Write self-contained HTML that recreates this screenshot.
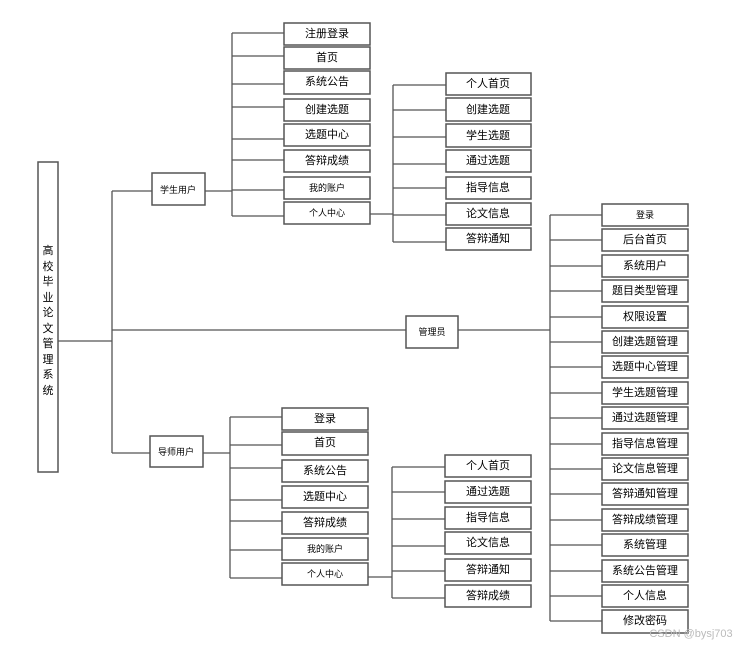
<!DOCTYPE html>
<html><head><meta charset="utf-8"><style>
html,body{margin:0;padding:0;background:#fff;}
svg{display:block;}
text{font-family:"Liberation Sans","Noto Sans CJK SC",sans-serif;fill:#000;text-anchor:middle;dominant-baseline:central;}
.b{fill:#fff;stroke:#555;stroke-width:1.5;}
.l{stroke:#555;stroke-width:1.3;fill:none;}
.t{font-size:11px;}
.s{font-size:9px;}
</style></head><body>
<svg width="749" height="647" viewBox="0 0 749 647">
<g class="l">
<path d="M58 341H112M112 191V453M112 191H152M112 330H406M112 453H150"/>
<path d="M205 191H232M232 33V216M232 33H284M232 56H284M232 84H284M232 107H284M232 139H284M232 160H284M232 190H284M232 216H284"/>
<path d="M370 214H393M393 85V242M393 85H446M393 110H446M393 137H446M393 164H446M393 188H446M393 215H446M393 242H446"/>
<path d="M458 330H550M550 215V621M550 215H602M550 240H602M550 266H602M550 291H602M550 317H602M550 342H602M550 367H602M550 393H602M550 418H602M550 444H602M550 469H602M550 494H602M550 520H602M550 545H602M550 571H602M550 596H602M550 621H602"/>
<path d="M203 453H230M230 417V578M230 417H282M230 445H282M230 468H282M230 500H282M230 521H282M230 550H282M230 578H282"/>
<path d="M368 577H392M392 467V598M392 467H445M392 492H445M392 519H445M392 546H445M392 571H445M392 598H445"/>
</g>
<rect class="b" x="38" y="162" width="20" height="310"/>
<g class="t">
<text x="48" y="251">高</text><text x="48" y="267">校</text><text x="48" y="282">毕</text><text x="48" y="298">业</text><text x="48" y="313">论</text><text x="48" y="329">文</text><text x="48" y="344">管</text><text x="48" y="360">理</text><text x="48" y="375">系</text><text x="48" y="391">统</text>
</g>
<rect class="b" x="152" y="173" width="53" height="32"/><text class="s" x="178" y="190">学生用户</text>
<rect class="b" x="406" y="316" width="52" height="32"/><text class="s" x="432" y="332">管理员</text>
<rect class="b" x="150" y="436" width="53" height="31"/><text class="s" x="176" y="452">导师用户</text>

<g>
<rect class="b" x="284" y="23" width="86" height="22"/><text class="t" x="327" y="34">注册登录</text>
<rect class="b" x="284" y="47" width="86" height="22"/><text class="t" x="327" y="58">首页</text>
<rect class="b" x="284" y="71" width="86" height="23"/><text class="t" x="327" y="82">系统公告</text>
<rect class="b" x="284" y="99" width="86" height="22"/><text class="t" x="327" y="110">创建选题</text>
<rect class="b" x="284" y="124" width="86" height="22"/><text class="t" x="327" y="135">选题中心</text>
<rect class="b" x="284" y="150" width="86" height="22"/><text class="t" x="327" y="161">答辩成绩</text>
<rect class="b" x="284" y="177" width="86" height="22"/><text class="s" x="327" y="188">我的账户</text>
<rect class="b" x="284" y="202" width="86" height="22"/><text class="s" x="327" y="213">个人中心</text>
</g>
<g>
<rect class="b" x="446" y="73" width="85" height="22"/><text class="t" x="488" y="84">个人首页</text>
<rect class="b" x="446" y="98" width="85" height="23"/><text class="t" x="488" y="110">创建选题</text>
<rect class="b" x="446" y="124" width="85" height="23"/><text class="t" x="488" y="136">学生选题</text>
<rect class="b" x="446" y="150" width="85" height="22"/><text class="t" x="488" y="161">通过选题</text>
<rect class="b" x="446" y="177" width="85" height="22"/><text class="t" x="488" y="188">指导信息</text>
<rect class="b" x="446" y="203" width="85" height="22"/><text class="t" x="488" y="214">论文信息</text>
<rect class="b" x="446" y="228" width="85" height="22"/><text class="t" x="488" y="239">答辩通知</text>
</g>
<g>
<rect class="b" x="602" y="204" width="86" height="22"/><text class="s" x="645" y="215">登录</text>
<rect class="b" x="602" y="229" width="86" height="22"/><text class="t" x="645" y="240">后台首页</text>
<rect class="b" x="602" y="255" width="86" height="22"/><text class="t" x="645" y="266">系统用户</text>
<rect class="b" x="602" y="280" width="86" height="22"/><text class="t" x="645" y="291">题目类型管理</text>
<rect class="b" x="602" y="306" width="86" height="22"/><text class="t" x="645" y="317">权限设置</text>
<rect class="b" x="602" y="331" width="86" height="22"/><text class="t" x="645" y="342">创建选题管理</text>
<rect class="b" x="602" y="356" width="86" height="22"/><text class="t" x="645" y="367">选题中心管理</text>
<rect class="b" x="602" y="382" width="86" height="22"/><text class="t" x="645" y="393">学生选题管理</text>
<rect class="b" x="602" y="407" width="86" height="22"/><text class="t" x="645" y="418">通过选题管理</text>
<rect class="b" x="602" y="433" width="86" height="22"/><text class="t" x="645" y="444">指导信息管理</text>
<rect class="b" x="602" y="458" width="86" height="22"/><text class="t" x="645" y="469">论文信息管理</text>
<rect class="b" x="602" y="483" width="86" height="22"/><text class="t" x="645" y="494">答辩通知管理</text>
<rect class="b" x="602" y="509" width="86" height="22"/><text class="t" x="645" y="520">答辩成绩管理</text>
<rect class="b" x="602" y="534" width="86" height="22"/><text class="t" x="645" y="545">系统管理</text>
<rect class="b" x="602" y="560" width="86" height="22"/><text class="t" x="645" y="571">系统公告管理</text>
<rect class="b" x="602" y="585" width="86" height="22"/><text class="t" x="645" y="596">个人信息</text>
<rect class="b" x="602" y="610" width="86" height="23"/><text class="t" x="645" y="621">修改密码</text>
</g>
<g>
<rect class="b" x="282" y="408" width="86" height="22"/><text class="t" x="325" y="419">登录</text>
<rect class="b" x="282" y="432" width="86" height="23"/><text class="t" x="325" y="443">首页</text>
<rect class="b" x="282" y="460" width="86" height="22"/><text class="t" x="325" y="471">系统公告</text>
<rect class="b" x="282" y="486" width="86" height="22"/><text class="t" x="325" y="497">选题中心</text>
<rect class="b" x="282" y="512" width="86" height="22"/><text class="t" x="325" y="523">答辩成绩</text>
<rect class="b" x="282" y="538" width="86" height="22"/><text class="s" x="325" y="549">我的账户</text>
<rect class="b" x="282" y="563" width="86" height="22"/><text class="s" x="325" y="574">个人中心</text>
</g>
<g>
<rect class="b" x="445" y="455" width="86" height="22"/><text class="t" x="488" y="466">个人首页</text>
<rect class="b" x="445" y="481" width="86" height="22"/><text class="t" x="488" y="492">通过选题</text>
<rect class="b" x="445" y="507" width="86" height="22"/><text class="t" x="488" y="518">指导信息</text>
<rect class="b" x="445" y="532" width="86" height="22"/><text class="t" x="488" y="543">论文信息</text>
<rect class="b" x="445" y="559" width="86" height="22"/><text class="t" x="488" y="570">答辩通知</text>
<rect class="b" x="445" y="585" width="86" height="22"/><text class="t" x="488" y="596">答辩成绩</text>
</g>
<text x="691" y="634" style="font-size:11px;fill:#bbb;">CSDN @bysj703</text>
</svg>
</body></html>
